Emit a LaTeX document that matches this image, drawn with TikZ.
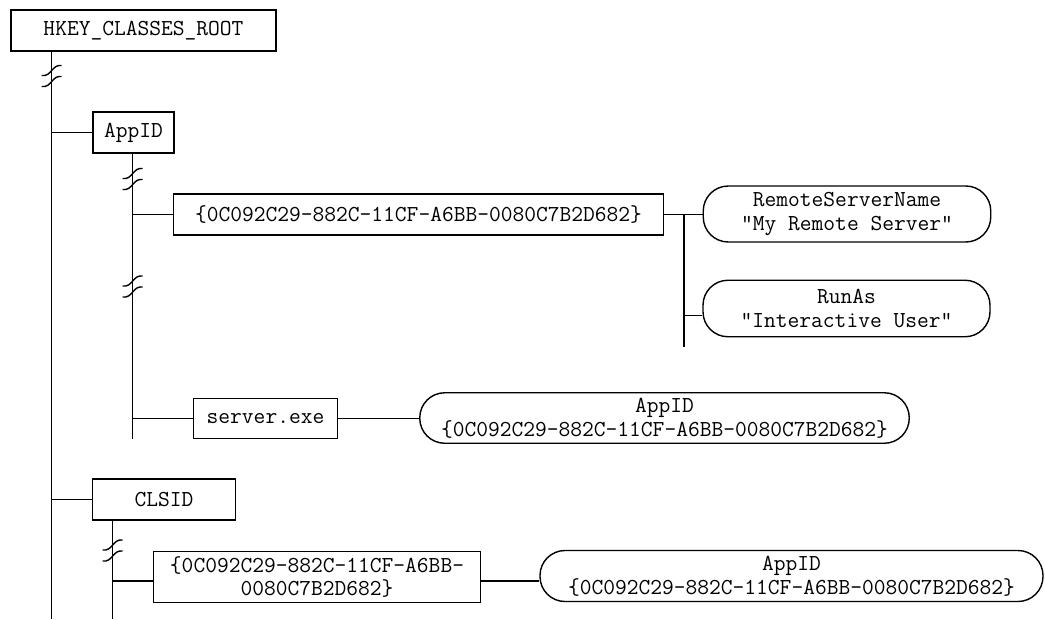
\documentclass[tikz,border=0pt]{standalone}
\usepackage{fontspec}
\usetikzlibrary{calc,positioning}

\begin{document}
\begin{tikzpicture}[
    key/.style={draw,rectangle,line width=0.8pt,inner sep=0pt,
                minimum height=0.82cm,align=center,
                font=\ttfamily\fontsize{13}{13.5}\selectfont},
    val/.style={draw,rectangle,rounded corners=0.5cm,line width=0.8pt,
                inner sep=0pt,minimum height=1.02cm,align=center,
                font=\ttfamily\fontsize{13}{13.5}\selectfont},
    wire/.style={line width=0.8pt},
    brk/.pic={
        \foreach \dy in {-0.11,0.11}
            \draw[line width=0.8pt] (-0.2,{\dy-0.1})
                .. controls (0,{\dy-0.13}) and (0,{\dy+0.13}) .. (0.2,{\dy+0.1});
    },
]
\useasboundingbox (0,0) rectangle (20.9,-12.38);

% ---- Root key ------------------------------------------------------------
\node[key,minimum width=5.3cm] (root) at (2.87,-0.61) {HKEY\_CLASSES\_ROOT};
\coordinate (trunkend) at (1.034,-12.38);
\draw[wire] (trunkend |- root.south) -- (trunkend);
\pic at (1.034,-1.52) {brk};

% ---- AppID branch --------------------------------------------------------
\node[key,minimum width=1.62cm] (appid) at (2.67,-2.65) {AppID};
\draw[wire] (trunkend |- appid.west) -- (appid.west);
\coordinate (subA) at (2.654,-8.77);
\draw[wire] (subA |- appid.south) -- (subA);
\pic at (2.654,-3.58) {brk};
\pic at (2.654,-5.73) {brk};

\node[key,minimum width=9.8cm] (guid1) at (8.37,-4.29)
    {\{0C092C29-882C-11CF-A6BB-0080C7B2D682\}};
\draw[wire] (subA |- guid1.west) -- (guid1.west);

% values of the AppID key
\node[val,minimum width=5.75cm,minimum height=1.12cm] (rsn) at (16.94,-4.28)
    {RemoteServerName\\"My Remote Server"};
\node[val,minimum width=5.74cm,minimum height=1.13cm] (runas) at (16.93,-6.17)
    {RunAs\\"Interactive User"};
\draw[wire] (guid1.east) -- (guid1.east -| rsn.west);
\coordinate (subG) at (13.68,-6.93);
\draw[wire] (subG |- guid1.east) -- (subG);
\coordinate (runjoin) at ([yshift=-0.14cm]runas.west);
\draw[wire] (subG |- runjoin) -- (runjoin);

% ---- server.exe ----------------------------------------------------------
\node[key,minimum width=2.87cm,minimum height=0.8cm] (server) at (5.31,-8.37) {server.exe};
\draw[wire] (subA |- server.west) -- (server.west);
\node[val,minimum width=9.79cm,minimum height=1.01cm] (appval) at (13.29,-8.36)
    {AppID\\\{0C092C29-882C-11CF-A6BB-0080C7B2D682\}};
\draw[wire] (server.east) -- (server.east -| appval.west);

% ---- CLSID branch --------------------------------------------------------
\node[key,minimum width=2.87cm] (clsid) at (3.28,-9.99) {CLSID};
\draw[wire] (trunkend |- clsid.west) -- (clsid.west);
\coordinate (subC) at (2.254,-12.38);
\draw[wire] (subC |- clsid.south) -- (subC);
\pic at (2.254,-11.01) {brk};

\node[key,minimum width=6.55cm,minimum height=1.03cm] (guid2) at (6.34,-11.54)
    {\{0C092C29-882C-11CF-A6BB-\\0080C7B2D682\}};
\node[val,minimum width=10.06cm] (clsval) at (15.83,-11.52)
    {AppID\\\{0C092C29-882C-11CF-A6BB-0080C7B2D682\}};
\coordinate (clsjoin) at ([yshift=-0.08cm]guid2.east);
\draw[wire] (subC |- clsjoin) -- (clsjoin -| guid2.west);
\draw[wire] (clsjoin) -- (clsjoin -| clsval.west);

\end{tikzpicture}
\end{document}
